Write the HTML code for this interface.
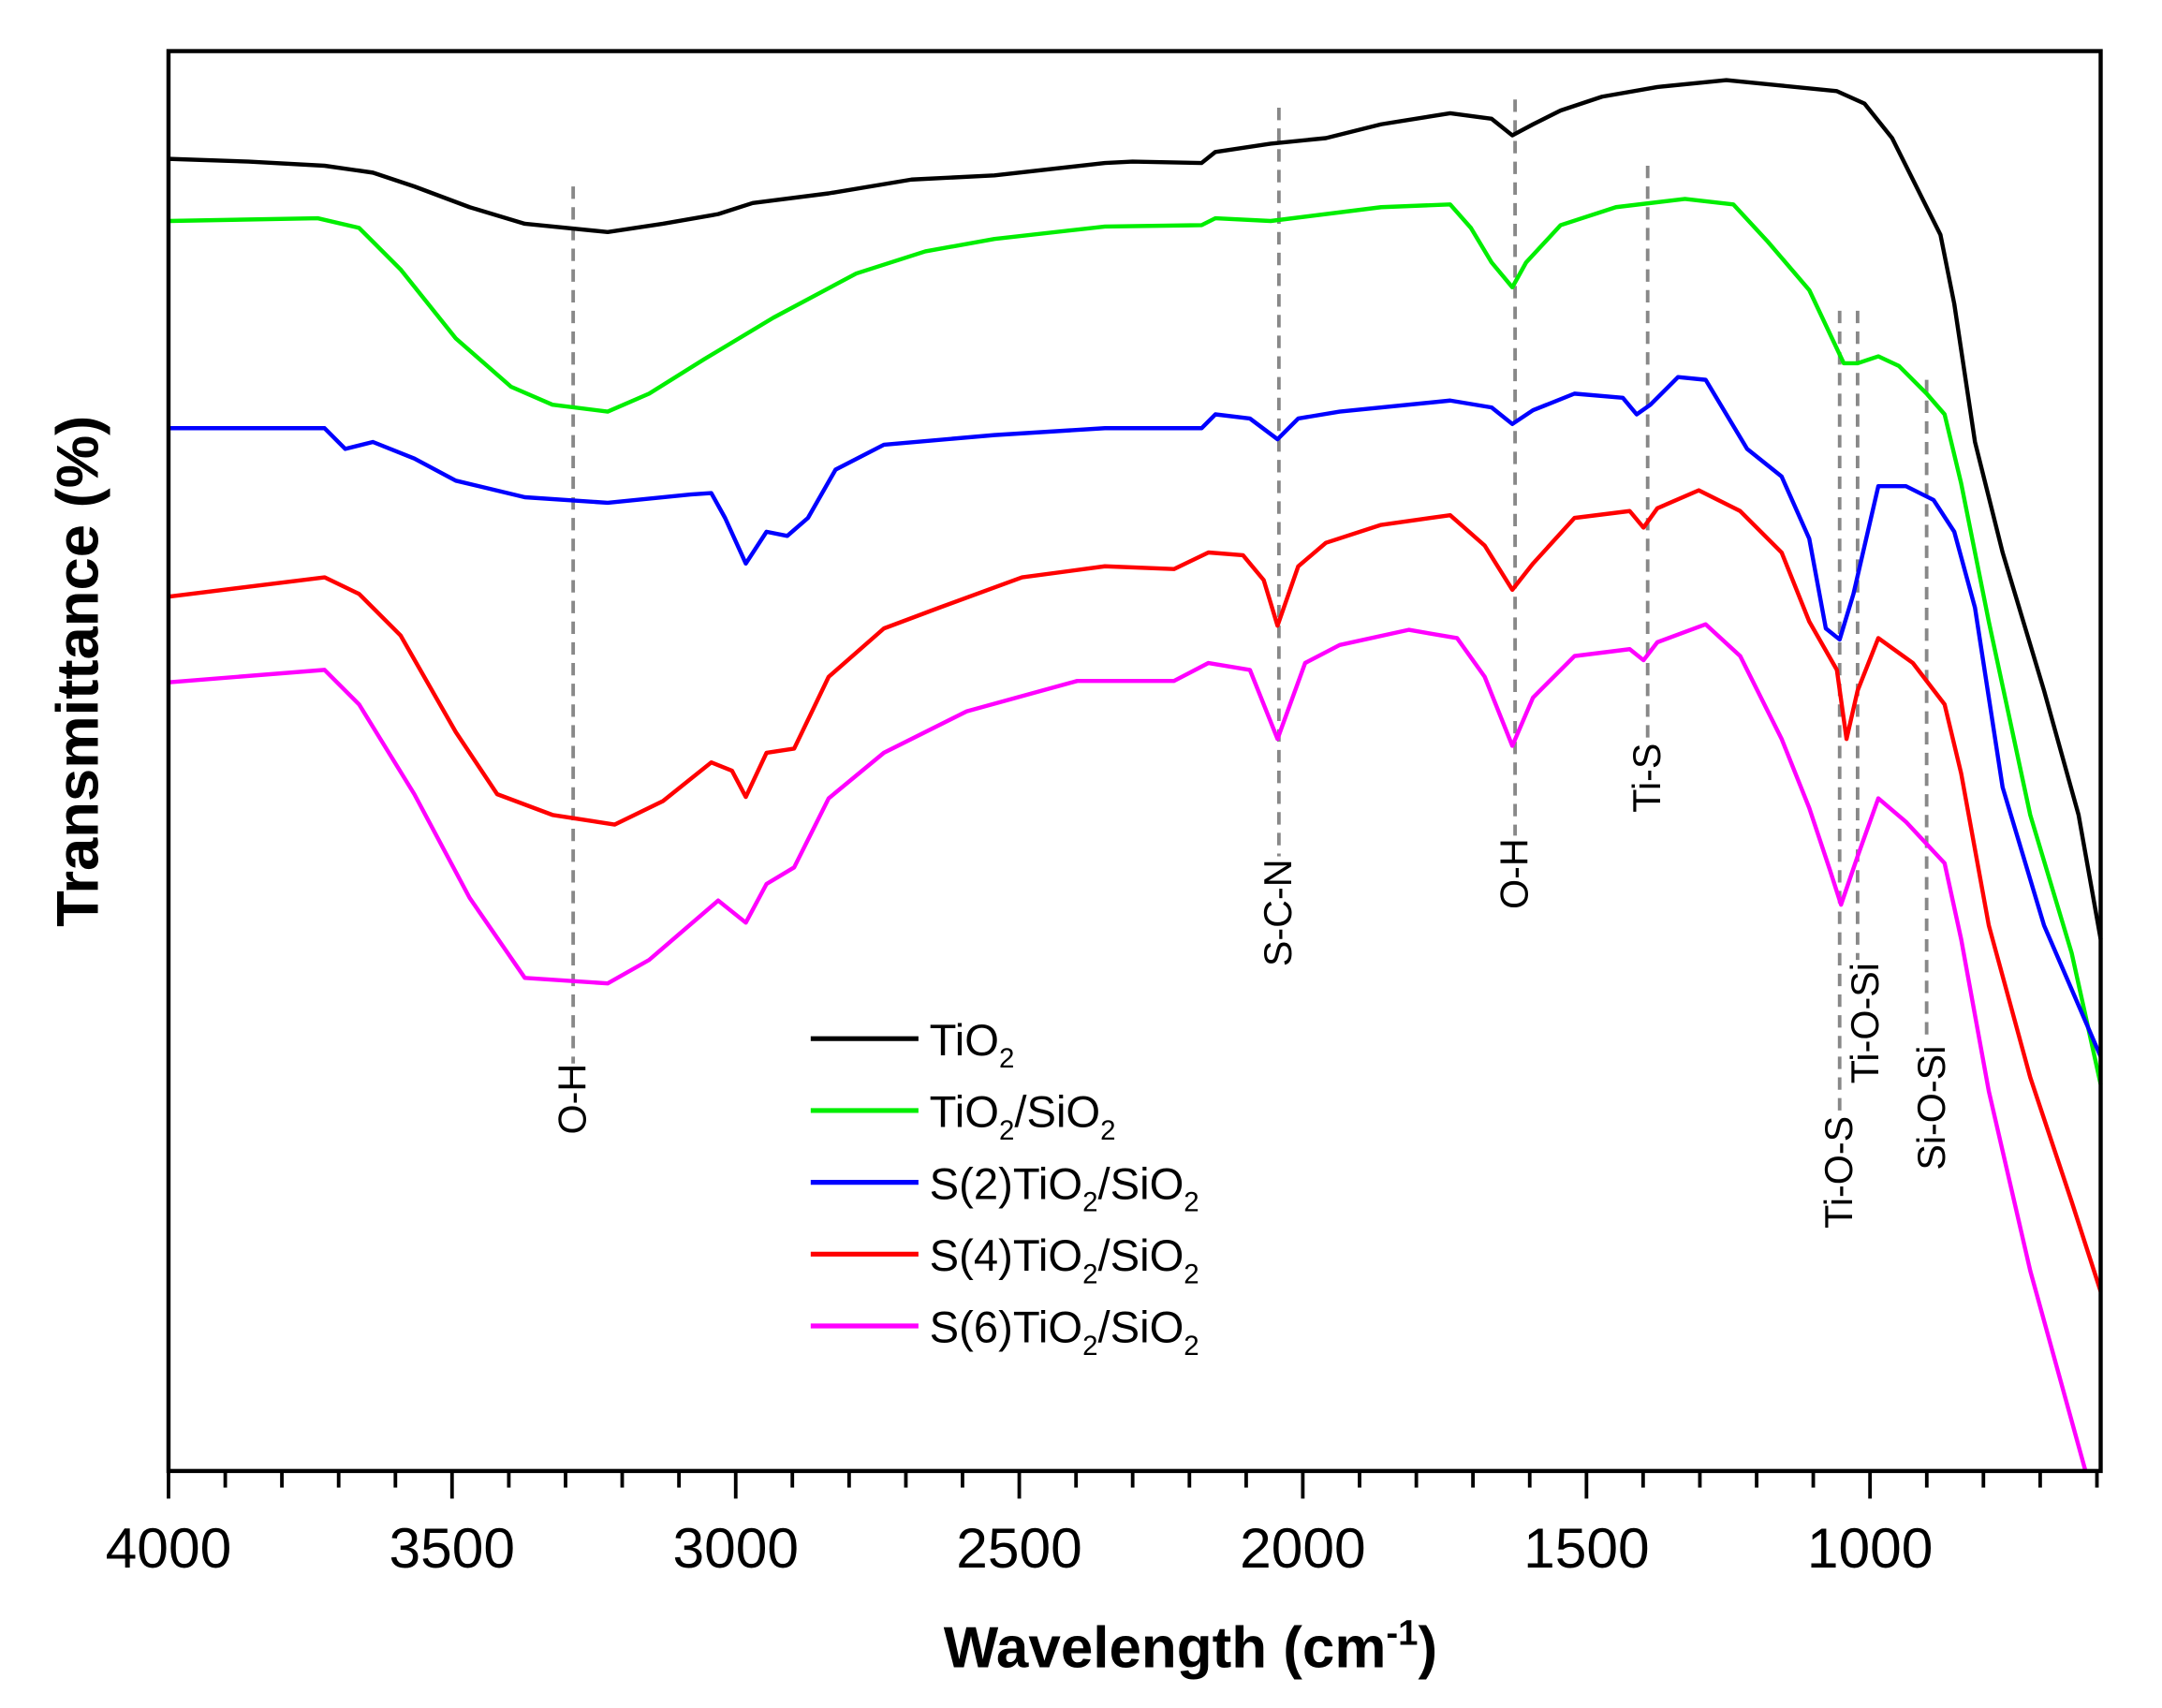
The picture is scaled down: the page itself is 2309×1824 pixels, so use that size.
<!DOCTYPE html>
<html><head><meta charset="utf-8"><style>
html,body{margin:0;padding:0;background:#fff;}
svg{display:block;}
text{font-family:"Liberation Sans",Arial,sans-serif;}
</style></head><body>
<svg width="2309" height="1824" viewBox="0 0 1565.4 1236.6" xmlns="http://www.w3.org/2000/svg">
<rect width="1565.4" height="1236.6" fill="#fff"/>
<g stroke="#888" stroke-width="2.6" stroke-dasharray="9,6" fill="none">
<line x1="415" y1="135" x2="415" y2="770"/>
<line x1="926" y1="78" x2="926" y2="620"/>
<line x1="1097" y1="72" x2="1097" y2="605"/>
<line x1="1193" y1="120" x2="1193" y2="535"/>
<line x1="1332" y1="225" x2="1332" y2="805"/>
<line x1="1345" y1="225" x2="1345" y2="695"/>
<line x1="1395" y1="275" x2="1395" y2="755"/>
</g>
<g fill="none" stroke-width="3" stroke-linejoin="round">
<polyline stroke="#000" points="122,115 180,117 235,120 270,125 300,135 340,150 380,162 440,168 480,162 520,155 545,147 600,140 660,130 720,127 800,118 820,117 870,118 880,110 920,104 960,100 1000,90 1050,82 1080,86 1095,98 1110,90 1130,80 1160,70 1200,63 1250,58 1290,62 1330,66 1350,75 1370,100 1395,150 1405,170 1415,220 1430,320 1450,400 1480,500 1505,590 1521,680"/>
<polyline stroke="#00ee00" points="122,160 230,158 260,165 290,195 330,245 370,280 400,293 440,298 470,285 510,260 560,230 620,198 670,182 720,173 800,164 870,163 880,158 920,160 1000,150 1050,148 1065,165 1080,190 1095,208 1105,190 1130,163 1170,150 1220,144 1255,148 1280,175 1310,210 1335,263 1345,263 1360,258 1375,265 1395,285 1408,300 1420,350 1440,450 1470,590 1500,690 1521,785"/>
<polyline stroke="#0000ff" points="122,310 235,310 250,325 270,320 300,332 330,348 380,360 440,364 500,358 515,357 525,375 540,408 555,385 570,388 585,375 605,340 640,322 720,315 800,310 870,310 880,300 905,303 925,318 940,303 970,298 1050,290 1080,295 1095,307 1110,297 1140,285 1175,288 1185,300 1195,293 1215,273 1235,275 1250,300 1265,325 1290,345 1310,390 1322,455 1332,463 1342,430 1360,352 1380,352 1400,362 1415,385 1430,440 1450,570 1480,670 1521,765"/>
<polyline stroke="#ff0000" points="122,432 235,418 260,430 290,460 330,530 360,575 400,590 445,597 480,580 515,552 530,558 540,577 555,545 575,542 600,490 640,455 680,440 740,418 800,410 850,412 875,400 900,402 915,420 925,453 940,410 960,393 1000,380 1050,373 1075,395 1095,427 1110,408 1140,375 1180,370 1190,382 1200,368 1230,355 1260,370 1290,400 1310,450 1330,485 1337,535 1345,500 1360,462 1385,480 1408,510 1420,560 1440,670 1470,780 1500,870 1521,935"/>
<polyline stroke="#ff00ff" points="122,494 235,485 260,510 300,575 340,650 380,708 440,712 470,695 520,652 540,668 555,640 575,628 600,578 640,545 700,515 780,493 850,493 875,480 905,485 925,535 945,480 970,467 1020,456 1055,462 1075,490 1095,540 1110,505 1140,475 1180,470 1190,478 1200,465 1235,452 1260,475 1290,535 1310,585 1325,630 1333,655 1345,620 1360,578 1380,595 1408,625 1420,680 1440,790 1470,920 1510,1065"/>
</g>
<rect x="122" y="37" width="1399" height="1028" fill="none" stroke="#000" stroke-width="3"/>
<g stroke="#000" stroke-width="2.6">
<line x1="122" y1="1065" x2="122" y2="1085"/><line x1="327.3" y1="1065" x2="327.3" y2="1085"/><line x1="532.7" y1="1065" x2="532.7" y2="1085"/><line x1="738" y1="1065" x2="738" y2="1085"/><line x1="943.3" y1="1065" x2="943.3" y2="1085"/><line x1="1148.7" y1="1065" x2="1148.7" y2="1085"/><line x1="1354" y1="1065" x2="1354" y2="1085"/>
<line x1="163.1" y1="1065" x2="163.1" y2="1077"/><line x1="204.1" y1="1065" x2="204.1" y2="1077"/><line x1="245.2" y1="1065" x2="245.2" y2="1077"/><line x1="286.3" y1="1065" x2="286.3" y2="1077"/>
<line x1="368.4" y1="1065" x2="368.4" y2="1077"/><line x1="409.5" y1="1065" x2="409.5" y2="1077"/><line x1="450.5" y1="1065" x2="450.5" y2="1077"/><line x1="491.6" y1="1065" x2="491.6" y2="1077"/>
<line x1="573.7" y1="1065" x2="573.7" y2="1077"/><line x1="614.8" y1="1065" x2="614.8" y2="1077"/><line x1="655.9" y1="1065" x2="655.9" y2="1077"/><line x1="696.9" y1="1065" x2="696.9" y2="1077"/>
<line x1="779.1" y1="1065" x2="779.1" y2="1077"/><line x1="820.1" y1="1065" x2="820.1" y2="1077"/><line x1="861.2" y1="1065" x2="861.2" y2="1077"/><line x1="902.3" y1="1065" x2="902.3" y2="1077"/>
<line x1="984.4" y1="1065" x2="984.4" y2="1077"/><line x1="1025.5" y1="1065" x2="1025.5" y2="1077"/><line x1="1066.5" y1="1065" x2="1066.5" y2="1077"/><line x1="1107.6" y1="1065" x2="1107.6" y2="1077"/>
<line x1="1189.7" y1="1065" x2="1189.7" y2="1077"/><line x1="1230.8" y1="1065" x2="1230.8" y2="1077"/><line x1="1271.9" y1="1065" x2="1271.9" y2="1077"/><line x1="1312.9" y1="1065" x2="1312.9" y2="1077"/>
<line x1="1395.1" y1="1065" x2="1395.1" y2="1077"/><line x1="1436.1" y1="1065" x2="1436.1" y2="1077"/><line x1="1477.2" y1="1065" x2="1477.2" y2="1077"/><line x1="1518.3" y1="1065" x2="1518.3" y2="1077"/>
</g>
<g font-size="41" text-anchor="middle" fill="#000">
<text x="122" y="1135">4000</text><text x="327.3" y="1135">3500</text><text x="532.7" y="1135">3000</text><text x="738" y="1135">2500</text><text x="943.3" y="1135">2000</text><text x="1148.7" y="1135">1500</text><text x="1354" y="1135">1000</text>
</g>
<text x="862" y="1207" font-size="42" font-weight="bold" text-anchor="middle">Wavelength (cm<tspan font-size="26" dy="-16">-1</tspan><tspan dy="16">)</tspan></text>
<text transform="translate(71,486) rotate(-90)" font-size="43" font-weight="bold" text-anchor="middle">Transmittance (%)</text>
<g font-size="28" text-anchor="end" fill="#000">
<text transform="translate(424,770) rotate(-90)">O-H</text>
<text transform="translate(935,622) rotate(-90)">S-C-N</text>
<text transform="translate(1106,607) rotate(-90)">O-H</text>
<text transform="translate(1202,538) rotate(-90)">Ti-S</text>
<text transform="translate(1341,808) rotate(-90)">Ti-O-S</text>
<text transform="translate(1360,697) rotate(-90)">Ti-O-Si</text>
<text transform="translate(1408,757) rotate(-90)">Si-O-Si</text>
</g>
<g stroke-width="3.5">
<line x1="587" y1="752" x2="665" y2="752" stroke="#000"/>
<line x1="587" y1="804" x2="665" y2="804" stroke="#00ee00"/>
<line x1="587" y1="856" x2="665" y2="856" stroke="#0000ff"/>
<line x1="587" y1="908" x2="665" y2="908" stroke="#ff0000"/>
<line x1="587" y1="960" x2="665" y2="960" stroke="#ff00ff"/>
</g>
<g font-size="32" fill="#000">
<text x="673" y="764">TiO<tspan font-size="20" dy="9">2</tspan></text>
<text x="673" y="816">TiO<tspan font-size="20" dy="9">2</tspan><tspan dy="-9">/SiO</tspan><tspan font-size="20" dy="9">2</tspan></text>
<text x="673" y="868">S(2)TiO<tspan font-size="20" dy="9">2</tspan><tspan dy="-9">/SiO</tspan><tspan font-size="20" dy="9">2</tspan></text>
<text x="673" y="920">S(4)TiO<tspan font-size="20" dy="9">2</tspan><tspan dy="-9">/SiO</tspan><tspan font-size="20" dy="9">2</tspan></text>
<text x="673" y="972">S(6)TiO<tspan font-size="20" dy="9">2</tspan><tspan dy="-9">/SiO</tspan><tspan font-size="20" dy="9">2</tspan></text>
</g>
</svg>
</body></html>
